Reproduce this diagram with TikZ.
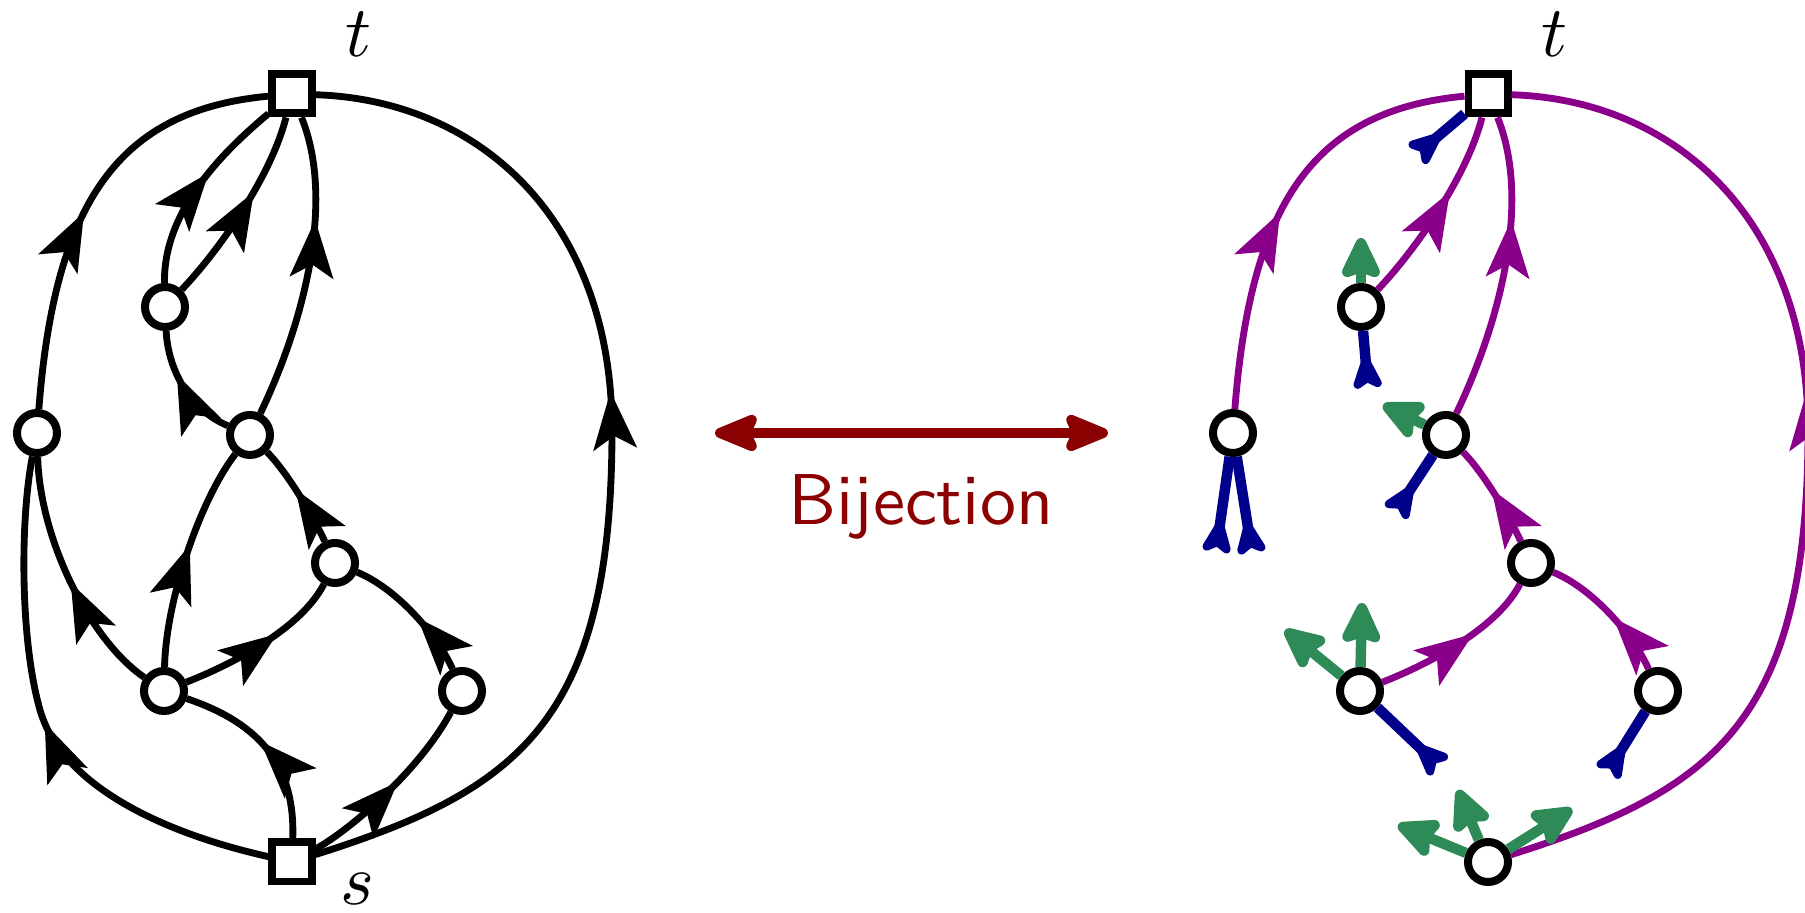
\documentclass[tikz,border=0pt]{standalone}
\usetikzlibrary{arrows.meta,decorations.markings}
\definecolor{tpurple}{RGB}{139,0,139}
\definecolor{tblue}{RGB}{0,0,139}
\definecolor{tgreen}{RGB}{46,139,87}
\definecolor{tred}{RGB}{139,0,0}
\begin{document}
\begin{tikzpicture}[x=0.1389pt, y=-0.1389pt,
  vtx/.style={circle, draw=black, fill=white, line width=1.11pt, minimum size=5.56pt, inner sep=0pt},
  term/.style={rectangle, draw=black, fill=white, line width=1.11pt, minimum size=5.42pt, inner sep=0pt},
  dedge/.style={line width=0.95pt, postaction={decorate},
    decoration={markings, mark=at position #1 with {\arrow{Stealth[length=8pt,width=6pt,inset=1.8pt]}}}},
  dedge/.default=0.5,
  pedge/.style={dedge=#1, tpurple},
  pedge/.default=0.5,
  bstub/.style={draw=tblue, fill=tblue, line width=1.45pt, line join=round,
    -{Stealth[reversed,round,length=6pt,width=5pt,inset=1.4pt]}},
  gstub/.style={draw=tgreen, fill=tgreen, line width=1.45pt, line join=round,
    -{Stealth[round,length=6.8pt,width=6.3pt,inset=1pt]}},
  lbl/.style={anchor=base, inner sep=0pt}
]
\useasboundingbox (0,0) rectangle (1805,913);

% ---------- left: the directed graph ----------
\node[term] (t) at (292,94) {};
\node[term] (s) at (292,862) {};
\node[vtx] (L) at (37,433) {};
\node[vtx] (A) at (165,307) {};
\node[vtx] (B) at (250,435) {};
\node[vtx] (C) at (335,563) {};
\node[vtx] (D) at (164,691) {};
\node[vtx] (E) at (462,691) {};
\node[lbl] (tl) at (358,57) {$t$};
\node[lbl] (sl) at (357,905) {$s$};

\draw[dedge=0.47] (L) .. controls (55,200) and (120,110) .. (t);
\draw[dedge=0.59] (A) .. controls (163,210) and (225,150) .. (t);
\draw[dedge=0.6] (A) .. controls (215,255) and (270,180) .. (t);
\draw[dedge=0.66] (B) .. controls (305,320) and (335,200) .. (t);
\draw[dedge=0.57] (s) .. controls (520,790) and (612,720) .. (612,430)
                      .. controls (612,220) and (480,100) .. (t);
\draw[dedge=0.62] (B) .. controls (190,410) and (168,370) .. (A);
\draw[dedge=0.48] (D) .. controls (90,640) and (40,540) .. (L);
\draw[dedge=0.5] (s) .. controls (150,830) and (60,780) .. (40,710)
                     .. controls (20,640) and (20,520) .. (L);
\draw[dedge=0.55] (D) .. controls (166,600) and (200,500) .. (B);
\draw[dedge=0.6] (D) .. controls (230,665) and (300,630) .. (C);
\draw[dedge=0.56] (C) .. controls (310,510) and (285,470) .. (B);
\draw[dedge=0.45] (E) .. controls (440,640) and (400,590) .. (C);
\draw[dedge=0.55] (s) .. controls (295,770) and (265,725) .. (D);
\draw[dedge=0.55] (s) .. controls (350,830) and (420,770) .. (E);

% ---------- middle: the bijection ----------
\coordinate (bl) at (715,433);
\coordinate (br) at (1108,433);
\draw[tred, line width=1.39pt,
  {Stealth[round,length=7.5pt,width=6pt,inset=1.3pt]}-{Stealth[round,length=7.5pt,width=6pt,inset=1.3pt]}]
  (bl) -- (br);
\node[lbl, text=tred, font=\sffamily] (bij) at (921,525) {Bijection};

% ---------- right: spanning tree with cut half-edges ----------
\begin{scope}[shift={(1196,0)}]
\node[term] (t2) at (292,94) {};
\node[vtx] (s2) at (292,862) {};
\node[vtx] (L2) at (37,433) {};
\node[vtx] (A2) at (165,307) {};
\node[vtx] (B2) at (250,435) {};
\node[vtx] (C2) at (335,563) {};
\node[vtx] (D2) at (164,691) {};
\node[vtx] (E2) at (462,691) {};
\node[lbl] (tl2) at (358,57) {$t$};

\draw[pedge=0.47] (L2) .. controls (55,200) and (120,110) .. (t2);
\draw[pedge=0.6] (A2) .. controls (215,255) and (270,180) .. (t2);
\draw[pedge=0.66] (B2) .. controls (305,320) and (335,200) .. (t2);
\draw[pedge=0.57] (s2) .. controls (520,790) and (612,720) .. (612,430)
                       .. controls (612,220) and (480,100) .. (t2);
\draw[pedge=0.6] (D2) .. controls (230,665) and (300,630) .. (C2);
\draw[pedge=0.56] (C2) .. controls (310,510) and (285,470) .. (B2);
\draw[pedge=0.45] (E2) .. controls (440,640) and (400,590) .. (C2);

% incoming halves
\coordinate (bt) at (220,155);
\coordinate (ba) at (172,388);
\coordinate (bl1) at (20,552);
\coordinate (bl2) at (56,553);
\coordinate (bb) at (199,513);
\coordinate (bd) at (244,767);
\coordinate (be) at (411,773);
\draw[bstub] (t2) -- (bt);
\draw[bstub] (A2) -- (ba);
\draw[bstub] (L2) -- (bl1);
\draw[bstub] (L2) -- (bl2);
\draw[bstub] (B2) -- (bb);
\draw[bstub] (D2) -- (bd);
\draw[bstub] (E2) -- (be);

% outgoing halves
\coordinate (ga) at (165,238);
\coordinate (gb) at (187,405);
\coordinate (gd1) at (89,630);
\coordinate (gd2) at (166,603);
\coordinate (gs1) at (202,825);
\coordinate (gs2) at (262,790);
\coordinate (gs3) at (376,809);
\draw[gstub] (A2) -- (ga);
\draw[gstub] (B2) -- (gb);
\draw[gstub] (D2) -- (gd1);
\draw[gstub] (D2) -- (gd2);
\draw[gstub] (s2) -- (gs1);
\draw[gstub] (s2) -- (gs2);
\draw[gstub] (s2) -- (gs3);
\end{scope}
\end{tikzpicture}
\end{document}
